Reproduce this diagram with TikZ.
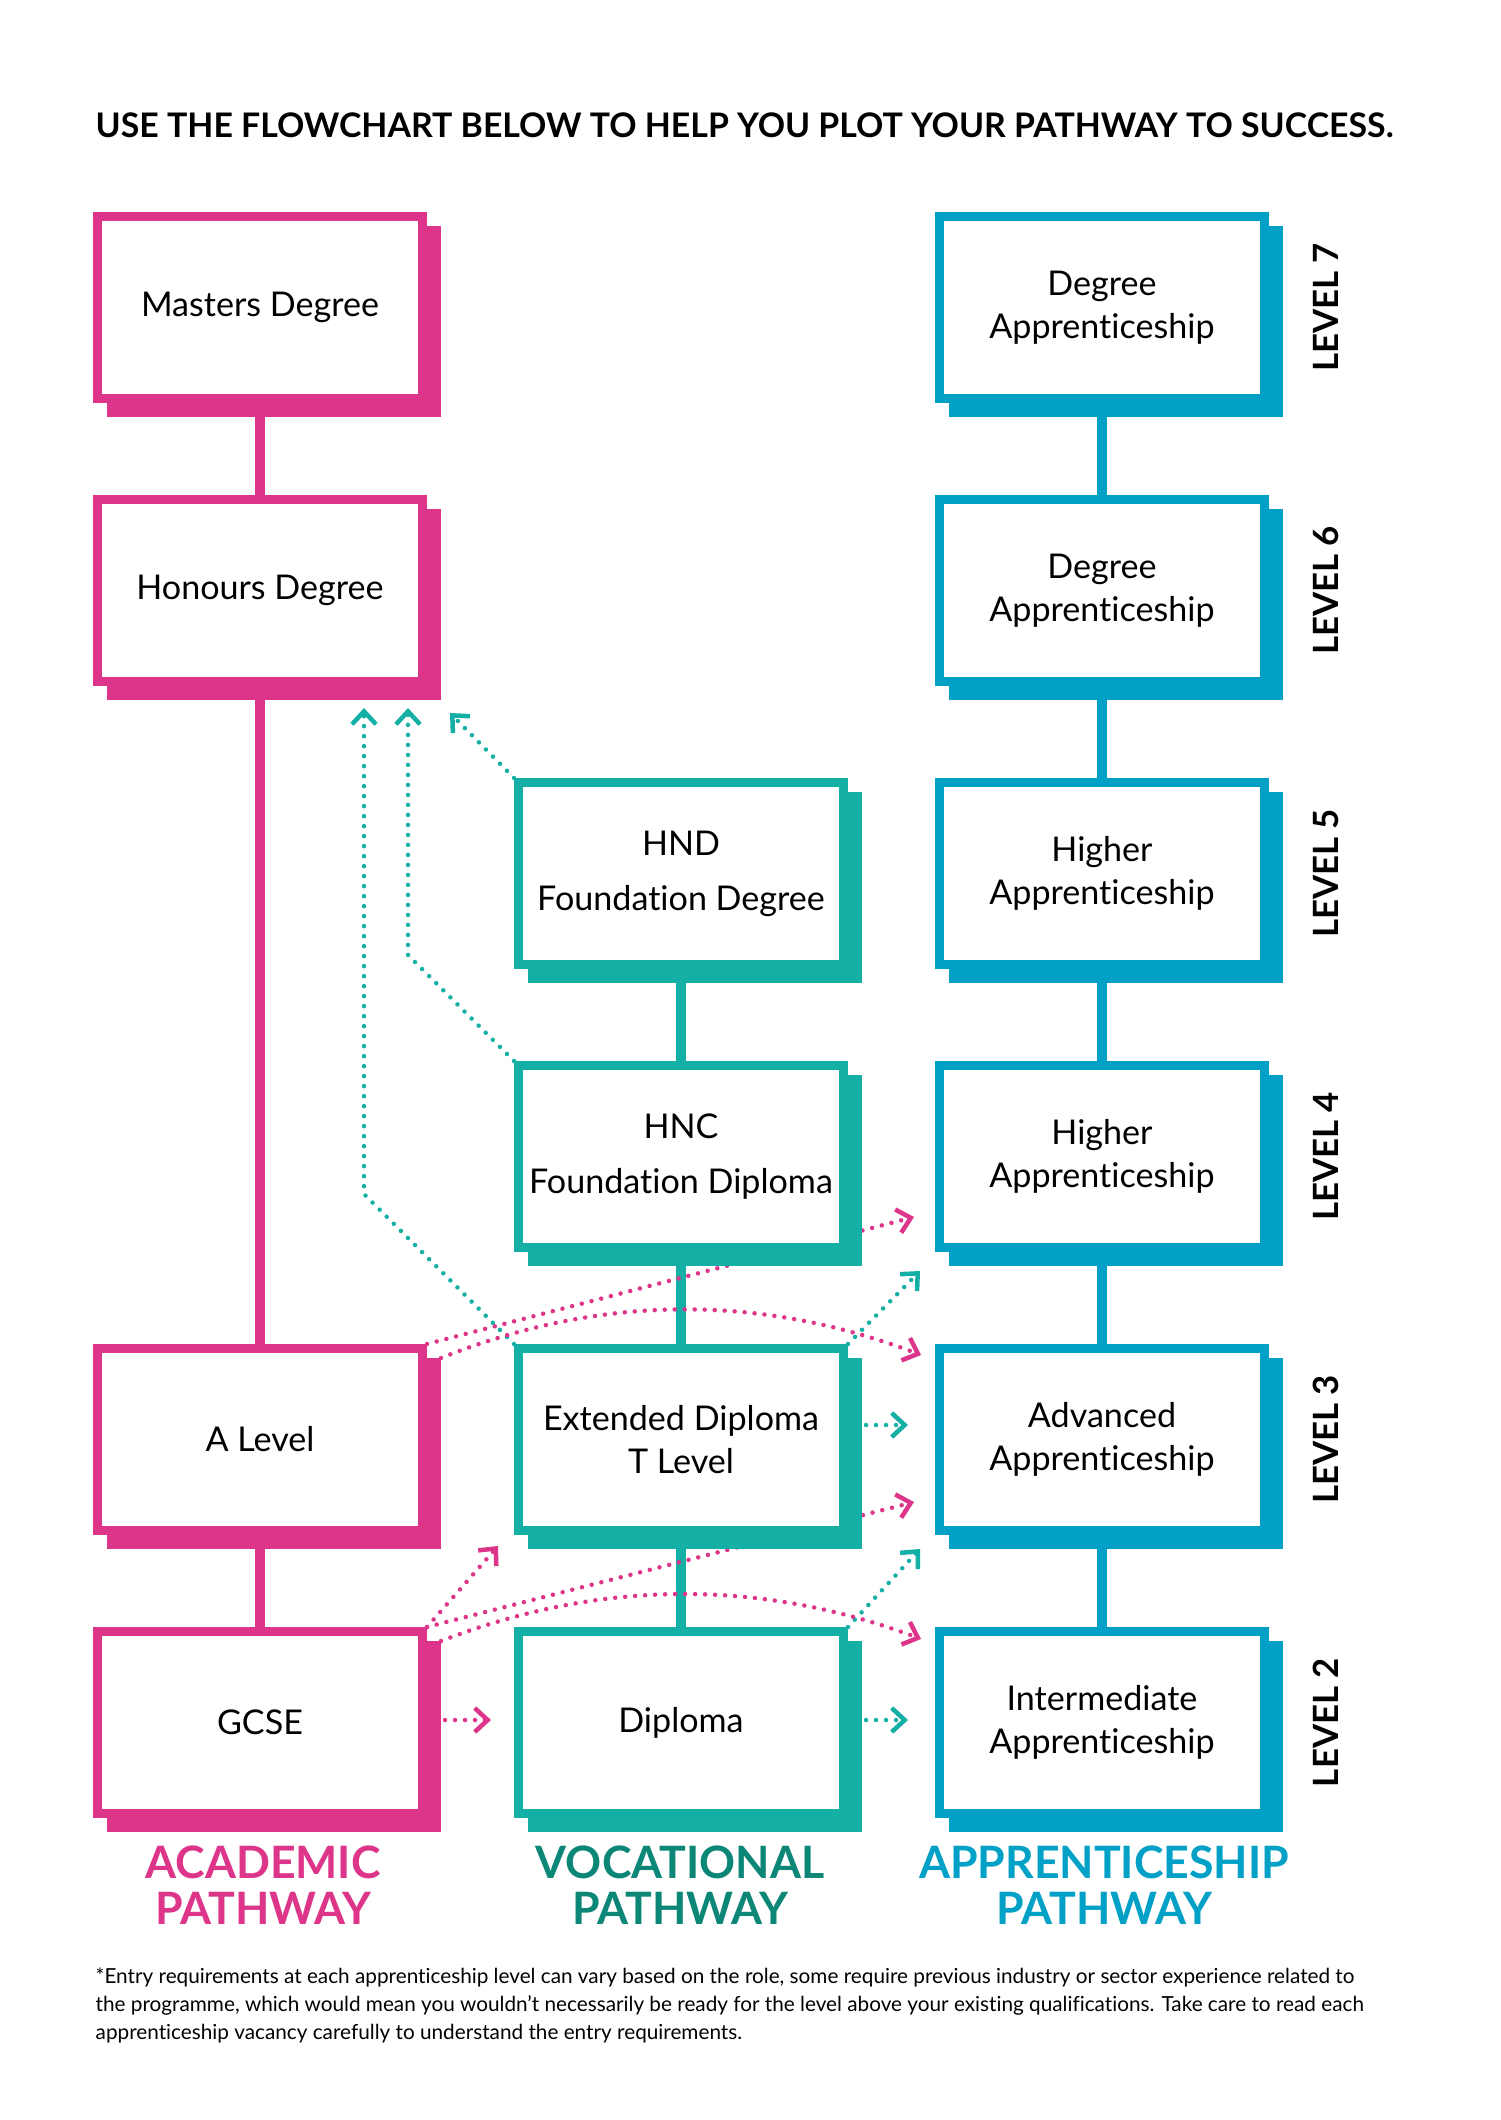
\documentclass[tikz,border=0pt]{standalone}
\usepackage{fontspec}
\setmainfont{Lato}[Ligatures=NoCommon]
\usepackage{xcolor}
\usetikzlibrary{arrows.meta,positioning,backgrounds}
\definecolor{pathpink}{RGB}{221,53,137}
\definecolor{pathteal}{RGB}{20,176,166}
\definecolor{pathblue}{RGB}{0,160,199}
\definecolor{pathdeep}{RGB}{12,134,119}

\begin{document}
\begin{tikzpicture}[every node/.style={font=\fontsize{9.7}{12.2}\selectfont},
  qbox/.style={draw=#1, fill=white, line width=0.9mm, minimum width=3.25cm, minimum height=1.82cm, inner sep=0pt, align=center,
    preaction={draw=#1, fill=#1, line width=0.9mm, transform canvas={xshift=1.4mm, yshift=-1.4mm}}},
  link/.style={draw=#1, line width=0.95mm},
  hop/.style={draw=#1, line width=0.45mm, line cap=round, dash pattern=on 0pt off 1mm, -{Straight Barb[length=1.3mm, width=2.4mm, line width=0.45mm]}},
  levellbl/.style={rotate=90, font=\fontsize{9.9}{12}\selectfont\bfseries},
  pathlbl/.style={align=center, text=#1, font=\fontsize{12.7}{13.2}\selectfont\bfseries}]
  \useasboundingbox (0,0) rectangle (15,-21.2);

  \node[anchor=west, inner sep=0pt, font=\fontsize{9.63}{11}\selectfont\bfseries] (title) at (0.95,-1.25) {USE THE FLOWCHART BELOW TO HELP YOU PLOT YOUR PATHWAY TO SUCCESS.};

  % academic column
  \node[qbox=pathpink] (masters) at (2.60,-3.075) {Masters Degree};
  \node[qbox=pathpink] (honours) at (2.60,-5.905) {Honours Degree};
  \node[qbox=pathpink] (alevel) at (2.60,-14.395) {A Level};
  \node[qbox=pathpink] (gcse) at (2.60,-17.225) {GCSE};
  % vocational column
  \node[qbox=pathteal] (hnd) at (6.81,-8.735) {HND\\[3.4pt]Foundation Degree};
  \node[qbox=pathteal] (hnc) at (6.81,-11.565) {HNC\\[3.4pt]Foundation Diploma};
  \node[qbox=pathteal] (extdip) at (6.81,-14.395) {Extended Diploma\\T Level};
  \node[qbox=pathteal] (diploma) at (6.81,-17.225) {Diploma};
  % apprenticeship column and levels
  \foreach \lvl/\kind in {7/Degree,6/Degree,5/Higher,4/Higher,3/Advanced,2/Intermediate} {
    \node[qbox=pathblue] (app\lvl) at (11.02,{-3.075-2.83*(7-\lvl)}) {\kind\\Apprenticeship};
    \node[levellbl] (lvl\lvl) at (13.26,{-3.075-2.83*(7-\lvl)}) {LEVEL \lvl};
  }

  \node[pathlbl=pathpink] (acad) at (2.63,-18.85) {ACADEMIC\\PATHWAY};
  \node[pathlbl=pathdeep] (voc) at (6.80,-18.85) {VOCATIONAL\\PATHWAY};
  \node[pathlbl=pathblue] (appr) at (11.04,-18.85) {APPRENTICESHIP\\PATHWAY};

  \node[anchor=west, inner sep=0pt, align=left, font=\fontsize{5.9}{7.97}\selectfont] (note) at (0.95,-20.05) {*Entry requirements at each apprenticeship level can vary based on the role, some require previous industry or sector experience related to\\the programme, which would mean you wouldn’t necessarily be ready for the level above your existing qualifications. Take care to read each\\apprenticeship vacancy carefully to understand the entry requirements.};

  \coordinate (up1) at (3.64,-7.08);
  \coordinate (up2) at (4.08,-7.08);
  \coordinate (up3) at (4.50,-7.13);
  \coordinate (t1) at (9.20,-12.71);
  \coordinate (t2) at (9.08,-14.25);
  \coordinate (t3) at (9.20,-15.49);
  \coordinate (t4) at (9.08,-17.20);
  \coordinate (p1) at (9.14,-12.17);
  \coordinate (p2) at (9.21,-13.55);
  \coordinate (p3) at (4.98,-15.46);
  \coordinate (p4) at (9.14,-15.02);
  \coordinate (p5) at (9.21,-16.39);
  \coordinate (p6) at (4.91,-17.20);

  \begin{scope}[on background layer]
    \fill[white] (0,0) rectangle (15,-21.2);
    \draw[link=pathpink] (masters.south) -- (honours.north);
    \draw[link=pathpink] (honours.south) -- (alevel.north);
    \draw[link=pathpink] (alevel.south) -- (gcse.north);
    \draw[link=pathteal] (hnd.south) -- (hnc.north);
    \draw[link=pathteal] (hnc.south) -- (extdip.north);
    \draw[link=pathteal] (extdip.south) -- (diploma.north);
    \foreach \a/\b in {7/6,6/5,5/4,4/3,3/2} \draw[link=pathblue] (app\a.south) -- (app\b.north);

    % teal hops
    \draw[hop=pathteal] (extdip.north west) -- ++(-1.5,1.5) -- (up1);
    \draw[hop=pathteal] (hnc.north west) -- ++(-1.06,1.06) -- (up2);
    \draw[hop=pathteal] (hnd.north west) -- (up3);
    \draw[hop=pathteal] (extdip.north east) -- (t1);
    \draw[hop=pathteal] ([xshift=1.8mm, yshift=1.45mm]extdip.east) -- (t2);
    \draw[hop=pathteal] (diploma.north east) -- (t3);
    \draw[hop=pathteal] ([xshift=1.8mm, yshift=0.25mm]diploma.east) -- (t4);
    % pink hops
    \draw[hop=pathpink] (alevel.north east) -- (p1);
    \draw[hop=pathpink] ([xshift=1.4mm, yshift=-1.4mm]alevel.north east) .. controls (6.01,-12.94) and (7.61,-12.94) .. (p2);
    \draw[hop=pathpink] (gcse.north east) -- (p3);
    \draw[hop=pathpink] (gcse.north east) -- (p4);
    \draw[hop=pathpink] ([xshift=1.4mm, yshift=-1.4mm]gcse.north east) .. controls (6.01,-15.79) and (7.61,-15.79) .. (p5);
    \draw[hop=pathpink] ([xshift=1.8mm, yshift=0.25mm]gcse.east) -- (p6);
  \end{scope}
\end{tikzpicture}
\end{document}
